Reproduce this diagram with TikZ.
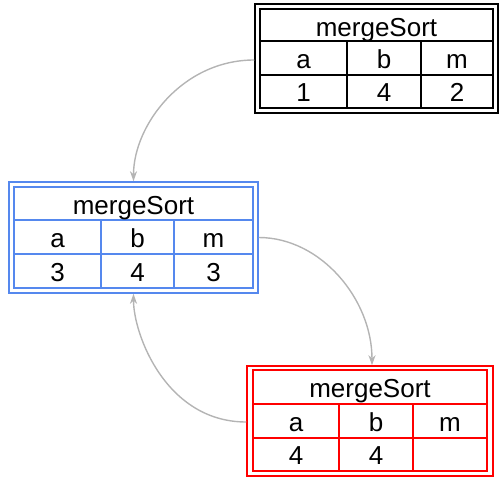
\documentclass[tikz,border=0pt]{standalone}
\usepackage{fontspec}
\setmainfont{Liberation Sans}
\usetikzlibrary{arrows.meta}
\definecolor{boxblue}{RGB}{85,136,238}
\definecolor{boxred}{RGB}{255,0,0}
\definecolor{linkgray}{RGB}{180,180,180}
\begin{document}
\begin{tikzpicture}[x=1pt,y=-1pt,
  outer/.style={draw,line width=1.5pt,inner sep=0pt,rectangle},
  gridline/.style={line width=1.6pt},
  lbl/.style={font=\fontsize{26}{30}\selectfont,inner sep=0pt,text height=19pt,text depth=0pt,anchor=center},
  link/.style={draw=linkgray,line width=1.4pt,-{Stealth[length=10pt,width=7pt,inset=3pt]}}]
\useasboundingbox (0,0) rectangle (499,477);
% top box
\node[outer,draw=black,minimum width=243pt,minimum height=109pt] (top) at (376.5,58.5) {};
\draw[gridline,black] (260,9) rectangle (493,108);
\draw[gridline,black] (260,41) -- (493,41) (260,75) -- (493,75) (347,41) -- (347,108) (421,41) -- (421,108);
\node[lbl] (t0) at (376.5,26.5) {mergeSort};
\node[lbl] (t1) at (303.5,58.5) {a};
\node[lbl] (t2) at (384,58.5) {b};
\node[lbl] (t3) at (457,58.5) {m};
\node[lbl] (t4) at (303.5,92) {1};
\node[lbl] (t5) at (384,92) {4};
\node[lbl] (t6) at (457,92) {2};
% middle box
\node[outer,draw=boxblue,minimum width=249pt,minimum height=111pt] (mid) at (133.5,237.5) {};
\draw[gridline,boxblue] (14,187) rectangle (253,288);
\draw[gridline,boxblue] (14,220) -- (253,220) (14,254) -- (253,254) (101,220) -- (101,288) (174,220) -- (174,288);
\node[lbl] (m0) at (133.5,204.5) {mergeSort};
\node[lbl] (m1) at (57.5,237.5) {a};
\node[lbl] (m2) at (137.5,237.5) {b};
\node[lbl] (m3) at (213.5,237.5) {m};
\node[lbl] (m4) at (57.5,271.5) {3};
\node[lbl] (m5) at (137.5,271.5) {4};
\node[lbl] (m6) at (213.5,271.5) {3};
% bottom box
\node[outer,draw=boxred,minimum width=246pt,minimum height=110pt] (bot) at (370,421) {};
\draw[gridline,boxred] (253,370) rectangle (487,471);
\draw[gridline,boxred] (253,404) -- (487,404) (253,438) -- (487,438) (339,404) -- (339,471) (413,404) -- (413,471);
\node[lbl] (b0) at (370,388) {mergeSort};
\node[lbl] (b1) at (296,421.5) {a};
\node[lbl] (b2) at (376,421.5) {b};
\node[lbl] (b3) at (450,421.5) {m};
\node[lbl] (b4) at (296,455) {4};
\node[lbl] (b5) at (376,455) {4};
% connectors
\draw[link] ([yshift=-1.5pt]top.west) .. controls +(-72,0) and +(0,-56) .. (mid.north);
\draw[link] (mid.east) .. controls +(62,0) and +(0,-66) .. ([xshift=2pt]bot.north);
\draw[link] ([yshift=-1pt]bot.west) .. controls +(-80,0) and +(0,41) .. (mid.south);
\end{tikzpicture}
\end{document}
